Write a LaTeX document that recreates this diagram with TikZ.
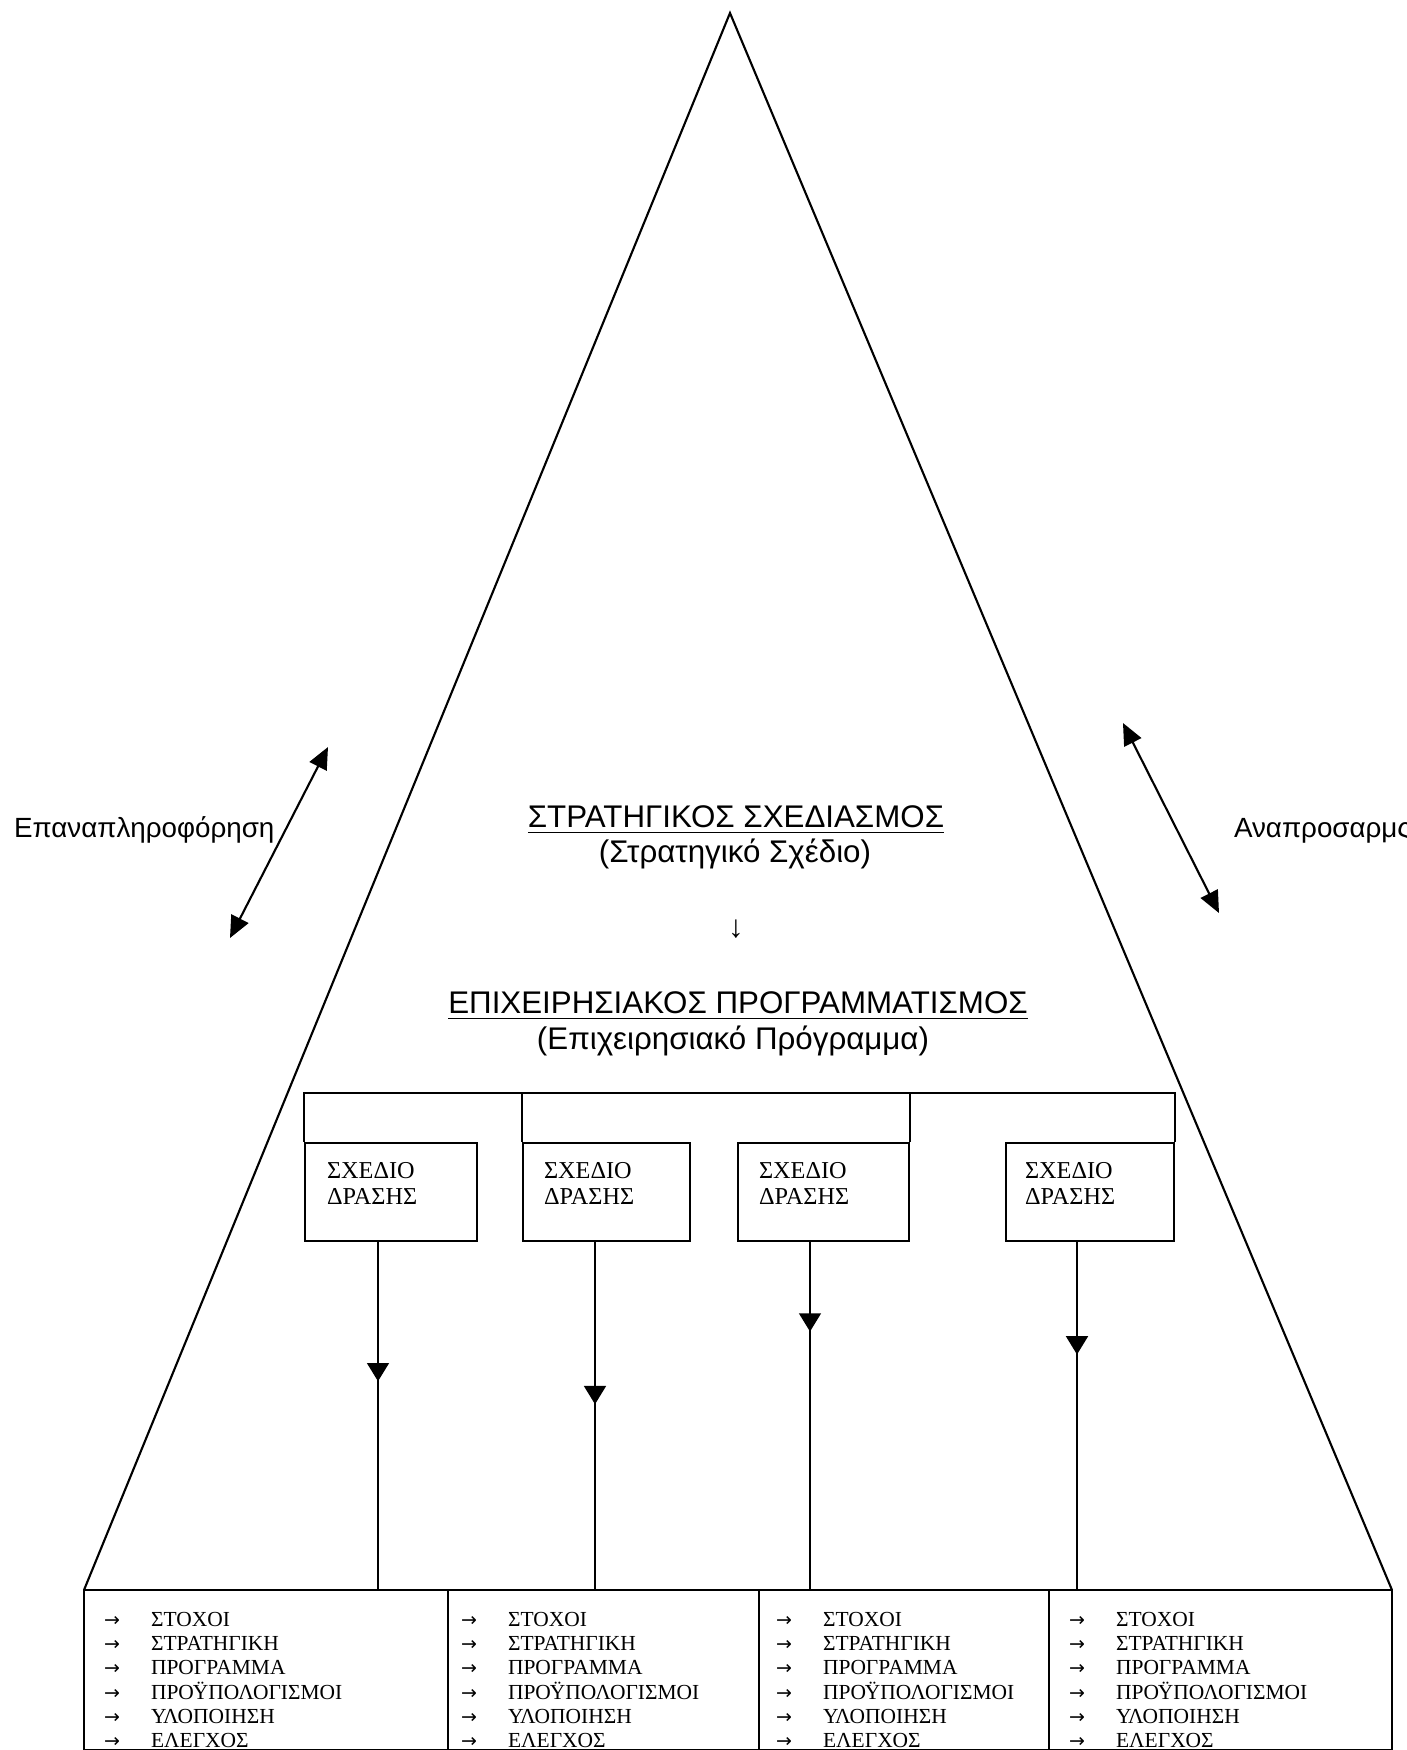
\documentclass[tikz,border=0pt]{standalone}
\usepackage{fontspec}
\setmainfont{Liberation Serif}
\newfontfamily\sansgr{Liberation Sans}
\newfontfamily\arrowfont{DejaVu Sans}
\usetikzlibrary{arrows.meta,decorations.markings}
\newcommand{\bl}{\makebox[0.47cm][l]{\arrowfont\fontsize{5.4pt}{6pt}\selectfont →}}
\newcommand{\lista}{\begin{tabular}[t]{@{}l@{}}
\bl ΣΤΟΧΟΙ\\ \bl ΣΤΡΑΤΗΓΙΚΗ\\ \bl ΠΡΟΓΡΑΜΜΑ\\ \bl ΠΡΟΫΠΟΛΟΓΙΣΜΟΙ\\ \bl ΥΛΟΠΟΙΗΣΗ\\ \bl ΕΛΕΓΧΟΣ
\end{tabular}}
\begin{document}
\begin{tikzpicture}[x=0.01cm,y=-0.01cm,line width=0.6pt,
	box/.style={draw,rectangle,anchor=north west,minimum height=0.98cm,inner sep=0pt},
	boxtxt/.style={anchor=north west,inner sep=0pt,align=left,font=\fontsize{6.9pt}{7.4pt}\selectfont},
	ttl/.style={anchor=base,inner sep=0pt,font=\sansgr\fontsize{8.9pt}{10pt}\selectfont},
	side/.style={anchor=base west,inner sep=0pt,font=\sansgr\fontsize{7.9pt}{9pt}\selectfont},
	lst/.style={anchor=base west,inner sep=0pt,font=\fontsize{6.1pt}{6.89pt}\selectfont},
	dbl/.style={{Triangle[length=6.2pt,width=5.4pt]}-{Triangle[length=6.2pt,width=5.4pt]}},
	midarrow/.style={postaction={decorate},decoration={markings,mark=at position #1 with {\arrow{Triangle[length=5.2pt,width=6.2pt]}}}}]
	\useasboundingbox (0,0) rectangle (1407,1750);
	\coordinate (A) at (730,13);
	\coordinate (L) at (84,1590);
	\coordinate (R) at (1392,1590);
	\draw (L) -- (A) -- (R);
	\draw (L) rectangle (1392,1750);
	\foreach \x in {448,759,1049} \draw (\x,1590) -- (\x,1750);
	\node[ttl] (st) at (736,827) {\underline{ΣΤΡΑΤΗΓΙΚΟΣ ΣΧΕΔΙΑΣΜΟΣ}};
	\node[ttl] (sts) at (735,862) {(Στρατηγικό Σχέδιο)};
	\node[ttl,anchor=center] (dn) at (736,929) {↓};
	\node[ttl] (ep) at (738,1013) {\underline{ΕΠΙΧΕΙΡΗΣΙΑΚΟΣ ΠΡΟΓΡΑΜΜΑΤΙΣΜΟΣ}};
	\node[ttl] (eps) at (733,1049) {(Επιχειρησιακό Πρόγραμμα)};
	\node[side] (lfeed) at (13,837) {Επαναπληροφόρηση};
	\node[side] (ladapt) at (1233,837) {Αναπροσαρμς};
	\coordinate (fa) at (230,938);
	\coordinate (fb) at (328,747);
	\coordinate (ra) at (1123,723);
	\coordinate (rb) at (1219,913);
	\draw[dbl] (fa) -- (fb);
	\draw[dbl] (ra) -- (rb);
	\node[box,minimum width=1.72cm] (b1) at (304,1142) {};
	\node[box,minimum width=1.67cm] (b2) at (522,1142) {};
	\node[box,minimum width=1.71cm] (b3) at (737,1142) {};
	\node[box,minimum width=1.68cm] (b4) at (1005,1142) {};
	\node[boxtxt] (s1) at ([shift={(22,19)}]b1.north west) {ΣΧΕΔΙΟ\\ΔΡΑΣΗΣ};
	\node[boxtxt] (s2) at ([shift={(21,19)}]b2.north west) {ΣΧΕΔΙΟ\\ΔΡΑΣΗΣ};
	\node[boxtxt] (s3) at ([shift={(21,19)}]b3.north west) {ΣΧΕΔΙΟ\\ΔΡΑΣΗΣ};
	\node[boxtxt] (s4) at ([shift={(19,19)}]b4.north west) {ΣΧΕΔΙΟ\\ΔΡΑΣΗΣ};
	\coordinate (top) at (0,1093);
	\draw (b1.north west) -- (b1.north west |- top) -- (b4.north east |- top) -- (b4.north east);
	\draw (b2.north west) -- (b2.north west |- top);
	\draw (b3.north east) -- (b3.north east |- top);
	\coordinate (e1) at (378,1590);
	\coordinate (e2) at (595,1590);
	\coordinate (e3) at (810,1590);
	\coordinate (e4) at (1077,1590);
	\draw[midarrow=0.40] (e1 |- b1.south) -- (e1);
	\draw[midarrow=0.466] (e2 |- b2.south) -- (e2);
	\draw[midarrow=0.257] (e3 |- b3.south) -- (e3);
	\draw[midarrow=0.323] (e4 |- b4.south) -- (e4);
	\node[lst] (t1) at (103,1626) {\lista};
	\node[lst] (t2) at (460,1626) {\lista};
	\node[lst] (t3) at (775,1626) {\lista};
	\node[lst] (t4) at (1068,1626) {\lista};
\end{tikzpicture}
\end{document}
